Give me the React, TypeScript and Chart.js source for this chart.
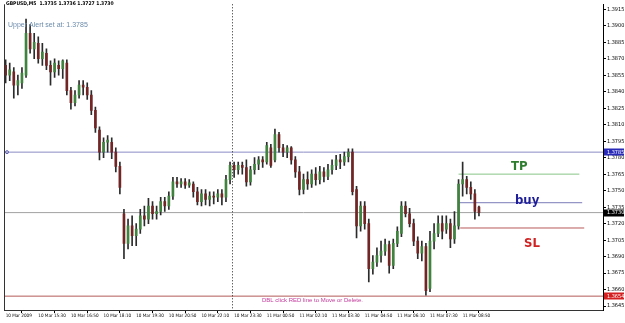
import React, { useEffect, useRef } from 'react';
import { Chart, registerables } from 'chart.js';

Chart.register(...registerables);

// ---- data (GBPUSD, M5 chart, compressed bars) ----
const symbolTitle = 'GBPUSD,M5';

const opens = [
  1.3864, 1.3855, 1.3858, 1.3846, 1.3848, 1.3855, 1.3893, 1.3879, 1.3884, 1.3870,
  1.3875, 1.3864, 1.3858, 1.3864, 1.3861, 1.3866, 1.3841, 1.3830, 1.3837, 1.3846,
  1.3844, 1.3837, 1.3823, 1.3805, 1.3785, 1.3794, 1.3794, 1.3785, 1.3772, 1.3729,
  1.3702, 1.3718, 1.3709, 1.3715, 1.3727, 1.3724, 1.3736, 1.3729, 1.3731, 1.3740,
  1.3736, 1.3745, 1.3758, 1.3756, 1.3758, 1.3755, 1.3756, 1.3749, 1.3740, 1.3747,
  1.3742, 1.3745, 1.3744, 1.3747, 1.3744, 1.3760, 1.3773, 1.3769, 1.3773, 1.3771,
  1.3758, 1.3769, 1.3774, 1.3778, 1.3776, 1.3789, 1.3778, 1.3801, 1.3789, 1.3785,
  1.3789, 1.3778, 1.3767, 1.3751, 1.3760, 1.3756, 1.3765, 1.3760, 1.3767, 1.3763,
  1.3769, 1.3773, 1.3778, 1.3776, 1.3781, 1.3785, 1.3751, 1.3718, 1.3736, 1.3720,
  1.3679, 1.3685, 1.3691, 1.3695, 1.3701, 1.3682, 1.3702, 1.3711, 1.3736, 1.3729,
  1.3720, 1.3704, 1.3693, 1.3699, 1.3661, 1.3704, 1.3711, 1.3720, 1.3715, 1.3720,
  1.3706, 1.3718, 1.3756, 1.3760, 1.3753, 1.3747, 1.3735,
];
const highs = [
  1.3869, 1.3866, 1.3862, 1.3855, 1.3862, 1.3906, 1.3901, 1.3893, 1.3890, 1.3884,
  1.3879, 1.3868, 1.3870, 1.3868, 1.3869, 1.3869, 1.3844, 1.3841, 1.3850, 1.3850,
  1.3848, 1.3841, 1.3826, 1.3808, 1.3798, 1.3800, 1.3798, 1.3789, 1.3776, 1.3733,
  1.3724, 1.3727, 1.3720, 1.3733, 1.3736, 1.3743, 1.3740, 1.3736, 1.3744, 1.3744,
  1.3749, 1.3762, 1.3762, 1.3761, 1.3761, 1.3760, 1.3758, 1.3753, 1.3751, 1.3751,
  1.3749, 1.3749, 1.3751, 1.3751, 1.3764, 1.3776, 1.3776, 1.3776, 1.3776, 1.3778,
  1.3772, 1.3780, 1.3781, 1.3781, 1.3794, 1.3792, 1.3806, 1.3803, 1.3792, 1.3791,
  1.3790, 1.3781, 1.3772, 1.3765, 1.3767, 1.3769, 1.3771, 1.3772, 1.3771, 1.3774,
  1.3778, 1.3782, 1.3783, 1.3785, 1.3788, 1.3788, 1.3754, 1.3740, 1.3740, 1.3724,
  1.3691, 1.3698, 1.3704, 1.3706, 1.3704, 1.3706, 1.3717, 1.3740, 1.3740, 1.3734,
  1.3724, 1.3708, 1.3704, 1.3702, 1.3713, 1.3720, 1.3727, 1.3727, 1.3727, 1.3724,
  1.3731, 1.3760, 1.3776, 1.3763, 1.3758, 1.3751, 1.3736,
];
const lows = [
  1.3848, 1.3850, 1.3834, 1.3837, 1.3843, 1.3853, 1.3875, 1.3870, 1.3866, 1.3864,
  1.3860, 1.3846, 1.3853, 1.3855, 1.3852, 1.3837, 1.3824, 1.3827, 1.3834, 1.3837,
  1.3833, 1.3819, 1.3803, 1.3778, 1.3780, 1.3785, 1.3779, 1.3767, 1.3747, 1.3688,
  1.3697, 1.3700, 1.3700, 1.3711, 1.3718, 1.3720, 1.3724, 1.3724, 1.3728, 1.3731,
  1.3733, 1.3742, 1.3753, 1.3753, 1.3752, 1.3753, 1.3744, 1.3737, 1.3736, 1.3737,
  1.3736, 1.3738, 1.3740, 1.3737, 1.3740, 1.3756, 1.3762, 1.3765, 1.3765, 1.3754,
  1.3755, 1.3765, 1.3769, 1.3771, 1.3774, 1.3771, 1.3776, 1.3785, 1.3781, 1.3780,
  1.3774, 1.3762, 1.3746, 1.3747, 1.3751, 1.3753, 1.3755, 1.3756, 1.3758, 1.3760,
  1.3765, 1.3769, 1.3770, 1.3773, 1.3776, 1.3746, 1.3707, 1.3713, 1.3715, 1.3667,
  1.3674, 1.3681, 1.3685, 1.3691, 1.3675, 1.3679, 1.3699, 1.3708, 1.3726, 1.3717,
  1.3700, 1.3688, 1.3686, 1.3655, 1.3658, 1.3697, 1.3708, 1.3706, 1.3711, 1.3698,
  1.3702, 1.3715, 1.3745, 1.3747, 1.3742, 1.3724, 1.3727,
];
const closes = [
  1.3855, 1.3860, 1.3846, 1.3850, 1.3857, 1.3893, 1.3879, 1.3885, 1.3870, 1.3876,
  1.3864, 1.3858, 1.3866, 1.3861, 1.3868, 1.3841, 1.3830, 1.3837, 1.3846, 1.3844,
  1.3837, 1.3823, 1.3807, 1.3785, 1.3794, 1.3796, 1.3785, 1.3772, 1.3753, 1.3702,
  1.3718, 1.3709, 1.3715, 1.3727, 1.3724, 1.3736, 1.3729, 1.3731, 1.3740, 1.3736,
  1.3745, 1.3758, 1.3756, 1.3758, 1.3755, 1.3757, 1.3749, 1.3740, 1.3747, 1.3742,
  1.3745, 1.3744, 1.3747, 1.3744, 1.3760, 1.3773, 1.3769, 1.3773, 1.3771, 1.3758,
  1.3769, 1.3774, 1.3778, 1.3776, 1.3791, 1.3773, 1.3801, 1.3789, 1.3785, 1.3789,
  1.3778, 1.3767, 1.3751, 1.3760, 1.3756, 1.3765, 1.3760, 1.3767, 1.3763, 1.3769,
  1.3773, 1.3778, 1.3776, 1.3781, 1.3785, 1.3749, 1.3718, 1.3736, 1.3720, 1.3679,
  1.3685, 1.3691, 1.3695, 1.3701, 1.3682, 1.3702, 1.3713, 1.3736, 1.3729, 1.3720,
  1.3704, 1.3693, 1.3699, 1.3659, 1.3704, 1.3711, 1.3720, 1.3713, 1.3720, 1.3706,
  1.3718, 1.3756, 1.3760, 1.3753, 1.3747, 1.3731, 1.3730,
];

const timeLabels = [
  '10 Mar 2009', '10 Mar 15:30', '10 Mar 16:50', '10 Mar 18:10', '10 Mar 19:30',
  '10 Mar 20:50', '10 Mar 22:10', '10 Mar 23:30', '11 Mar 00:50', '11 Mar 02:10',
  '11 Mar 03:30', '11 Mar 04:50', '11 Mar 06:10', '11 Mar 07:30', '11 Mar 08:50',
];
const barsPerLabel = 8;

const priceTicks = [
  1.3645, 1.3660, 1.3675, 1.3690, 1.3705, 1.3720, 1.3735, 1.3750, 1.3765,
  1.3780, 1.3795, 1.3810, 1.3825, 1.3840, 1.3855, 1.3870, 1.3885, 1.3900, 1.3915,
];

const alertLevel = 1.3785;
const bidLevel = 1.3730;
const redLevel = 1.3654;
const tpLevel = 1.3765;
const buyLevel = 1.3739;
const slLevel = 1.3716;
const tradeLineStart = [111, 111, 111.4];
const tradeLineEnd = [140.6, 141.3, 141.8];
const tradeTextPos = [
  { text: 'TP', x: 125.9, y: 1.3772, color: '#2f7d2f' },
  { text: 'buy', x: 127.8, y: 1.3741, color: '#1f1f9a' },
  { text: 'SL', x: 129.0, y: 1.3702, color: '#d02424' },
];
const separatorIndex = 55.5;

const X_MIN = -0.4;
const X_MAX = 146.4;
const Y_MIN = 1.36414;
const Y_MAX = 1.39195;

const BULL = '#3f833f';
const BEAR = '#722525';
const WICK = '#2b2b2b';
const SMALL_FONT = "'Liberation Sans Narrow', 'DejaVu Sans Condensed', 'Liberation Sans', sans-serif";

export default function App() {
  const ref = useRef<HTMLCanvasElement | null>(null);

  useEffect(() => {
    document.body.style.margin = '0';
    const canvas = ref.current;
    if (!canvas) return;

    const idx = closes.map((_, i) => i);
    const wickData = idx.map((i) => ({ x: i, y: [lows[i], highs[i]] }));
    const bodyData = idx.map((i) => ({ x: i, y: [opens[i], closes[i]] }));
    const bodyColors = idx.map((i) => (closes[i] >= opens[i] ? BULL : BEAR));

    const hLine = (y: number, x0: number, x1: number, color: string) => ({
      type: 'line' as const,
      data: [{ x: x0, y }, { x: x1, y }],
      borderColor: color,
      borderWidth: 1,
      pointRadius: 0,
      fill: false,
      order: 5,
    });

    const overlay = {
      id: 'mt4overlay',
      beforeDraw(chart: any) {
        const c = chart.ctx;
        c.save();
        c.fillStyle = '#ffffff';
        c.fillRect(0, 0, chart.width, chart.height);
        c.restore();
      },
      afterDraw(chart: any) {
        const c = chart.ctx;
        const xs = chart.scales.x;
        const ys = chart.scales.y;
        const a = chart.chartArea;
        c.save();
        // chart frame
        c.strokeStyle = '#333';
        c.lineWidth = 1;
        c.beginPath();
        c.moveTo(a.left + 0.5, a.top);
        c.lineTo(a.left + 0.5, a.bottom + 0.5);
        c.stroke();

        // day separator (dotted)
        const sx = Math.round(xs.getPixelForValue(separatorIndex)) + 0.5;
        c.strokeStyle = '#222';
        c.setLineDash([1, 2]);
        c.beginPath();
        c.moveTo(sx, a.top);
        c.lineTo(sx, a.bottom);
        c.stroke();
        c.setLineDash([]);

        // small marker on the alert line
        const ay = ys.getPixelForValue(alertLevel);
        c.strokeStyle = '#6060b0';
        c.beginPath();
        c.arc(a.left + 3, ay, 1.5, 0, Math.PI * 2);
        c.stroke();

        // title
        const last = closes.length - 1;
        c.fillStyle = '#000';
        c.textBaseline = 'middle';
        c.textAlign = 'left';
        c.font = `bold 5px ${SMALL_FONT}`;
        c.fillText(
          `${symbolTitle}  ${opens[last].toFixed(4)} ${highs[last].toFixed(4)} ${lows[last].toFixed(4)} ${closes[last].toFixed(4)}`,
          a.left + 2,
          4
        );

        // alert text
        c.fillStyle = '#6d8cab';
        c.font = `7px 'Liberation Sans', sans-serif`;
        c.fillText(`Upper Alert set at: ${alertLevel.toFixed(4)}`, a.left + 4, 25);

        // DBL click text
        c.fillStyle = '#c23a9c';
        c.font = `6px 'Liberation Sans', sans-serif`;
        c.fillText('DBL click RED line to Move or Delete.', 262, ys.getPixelForValue(redLevel) + 4);

        // trade labels
        c.textAlign = 'center';
        c.font = `bold 13px 'Liberation Sans Narrow', 'DejaVu Sans Condensed', 'Liberation Sans', sans-serif`;
        tradeTextPos.forEach((t) => {
          c.fillStyle = t.color;
          c.fillText(t.text, xs.getPixelForValue(t.x), ys.getPixelForValue(t.y));
        });

        // price boxes on the axis
        const boxes = [
          { v: alertLevel, bg: '#2a2ab8' },
          { v: bidLevel, bg: '#000000' },
          { v: redLevel, bg: '#d42020' },
        ];
        c.font = `5.5px ${SMALL_FONT}`;
        c.textAlign = 'left';
        boxes.forEach((b) => {
          const py = ys.getPixelForValue(b.v);
          c.fillStyle = b.bg;
          c.fillRect(a.right + 1, Math.round(py) - 3.5, 20, 7);
          c.fillStyle = '#ffffff';
          c.fillText(b.v.toFixed(4), a.right + 4, py);
        });
        c.restore();
      },
    };

    const chart = new Chart(canvas, {
      type: 'bar',
      data: {
        datasets: [
          {
            type: 'bar',
            data: bodyData as any,
            backgroundColor: bodyColors,
            barThickness: 2,
            minBarLength: 1,
            grouped: false,
            order: 0,
          } as any,
          {
            type: 'bar',
            data: wickData as any,
            backgroundColor: WICK,
            barThickness: 1,
            grouped: false,
            order: 1,
          } as any,
          hLine(alertLevel, X_MIN, X_MAX, '#8b8bc6'),
          hLine(bidLevel, X_MIN, X_MAX, '#a2a2a2'),
          hLine(redLevel, X_MIN, X_MAX, '#b45a5a'),
          hLine(tpLevel, tradeLineStart[0], tradeLineEnd[0], '#86c486'),
          hLine(buyLevel, tradeLineStart[1], tradeLineEnd[1], '#7a7ab8'),
          hLine(slLevel, tradeLineStart[2], tradeLineEnd[2], '#b85a5a'),
        ] as any,
      },
      options: {
        responsive: false,
        animation: false,
        devicePixelRatio: 1,
        layout: { padding: { left: 4, top: 0, right: 0, bottom: 0 } },
        plugins: { legend: { display: false }, tooltip: { enabled: false } },
        scales: {
          x: {
            type: 'linear',
            min: X_MIN,
            max: X_MAX,
            offset: false,
            afterBuildTicks: (axis: any) => {
              axis.ticks = timeLabels.map((_, k) => ({ value: k * barsPerLabel }));
            },
            afterFit: (axis: any) => {
              axis.height = 13;
            },
            ticks: {
              autoSkip: false,
              maxRotation: 0,
              minRotation: 0,
              align: 'start',
              padding: 0,
              color: '#000',
              font: { family: SMALL_FONT, size: 4.6 },
              callback: (_v: any, i: number) => timeLabels[i],
            },
            grid: { drawOnChartArea: false, drawTicks: true, tickLength: 3, color: '#000' },
            border: { display: true, color: '#333', width: 1 },
          },
          y: {
            type: 'linear',
            position: 'right',
            min: Y_MIN,
            max: Y_MAX,
            afterBuildTicks: (axis: any) => {
              axis.ticks = priceTicks.map((v) => ({ value: v }));
            },
            afterFit: (axis: any) => {
              axis.width = 22;
            },
            ticks: {
              padding: 1,
              color: '#000',
              font: { family: SMALL_FONT, size: 5.5 },
              callback: (v: any) => Number(v).toFixed(4),
            },
            grid: { drawOnChartArea: false, drawTicks: true, tickLength: 3, color: '#000' },
            border: { display: true, color: '#000', width: 1 },
          },
        },
      } as any,
      plugins: [overlay],
    });

    return () => chart.destroy();
  }, []);

  return (
    <div style={{ width: 625, height: 323, background: '#fff' }}>
      <canvas ref={ref} width={625} height={323} style={{ display: 'block' }} />
    </div>
  );
}
